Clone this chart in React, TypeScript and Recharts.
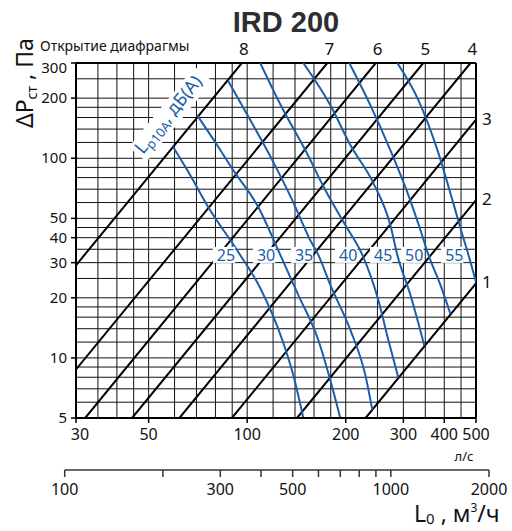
import React from "react";
import {
  LineChart,
  Line,
  XAxis,
  YAxis,
  CartesianGrid,
  ReferenceLine,
} from "recharts";

const FONT = "'Noto Sans', 'DejaVu Sans', sans-serif";
const BLUE = "#1b5ea9";

// grid / tick values (l/s and Pa)
const xGrid = [30, 35, 40, 45, 50, 60, 70, 80, 90, 100, 120, 140, 160, 180, 200, 250, 300, 350, 400, 450, 500];
const xLabels = [30, 50, 100, 200, 300, 400, 500];
const yGrid = [5, 6, 7, 8, 9, 10, 12, 14, 16, 18, 20, 25, 30, 35, 40, 45, 50, 60, 70, 80, 90, 100, 120, 140, 160, 180, 200, 250, 300];
const yLabels = [5, 10, 20, 30, 40, 50, 100, 200, 300];

// second scale, m3/h
const m3Ticks = [100, 200, 300, 400, 500, 600, 700, 800, 900, 1000, 2000];
const m3Labels = [100, 300, 500, 1000, 2000];

// damper opening lines (end points)
const damperNames = ["8", "7", "6", "5", "4", "3", "2", "1"];
const damperQ = [
  [30, 96.3],
  [30, 175.7],
  [32, 247],
  [44.5, 345],
  [62.1, 481],
  [89.8, 500],
  [142, 500],
  [230, 500],
];
const damperP = [
  [29.1, 300],
  [8.75, 300],
  [5, 300],
  [5, 300],
  [5, 300],
  [5, 156],
  [5, 61.7],
  [5, 23.6],
];

// sound level curves Lp10A, dB(A)
const levelNames = ["25", "30", "35", "40", "45", "50", "55"];
const levelQ = [
  [59.4, 65.6, 76.0, 95.2, 109.6, 128, 138.3, 148.4],
  [70.3, 79.8, 90.6, 108.1, 126.2, 143.2, 164.9, 179.4, 192.5],
  [87.5, 102.2, 119.3, 137.3, 155.8, 164.9, 179.4, 206.6, 229.6, 241.1],
  [109.6, 128.9, 150.5, 173.2, 199.4, 224.8, 251.5, 269.9, 289.6],
  [148.4, 179.4, 206.6, 242.9, 273.7, 287.5, 315.1, 347.8],
  [205.1, 237.8, 273.7, 310.7, 338.2, 357.8, 389.3, 417.7],
  [287.5, 333.4, 381.2, 423.6, 454.6, 474.2, 500],
];
const levelP = [
  [114, 87.3, 57, 32.8, 22.4, 12.3, 8.2, 5],
  [164.5, 120.6, 87.3, 57, 32.8, 20.7, 12.3, 7.75, 5],
  [243.5, 155.3, 97.9, 61.7, 38.9, 32.8, 23.2, 13.8, 8.2, 5.5],
  [300, 174.3, 109.9, 69.3, 46.3, 32.8, 19.5, 12.3, 7.95],
  [300, 184.6, 116.4, 75.1, 46.3, 32.8, 20.7, 11.5],
  [300, 184.6, 109.9, 65.4, 43.7, 32.8, 23.2, 16.6],
  [300, 195.6, 109.9, 61.7, 41.3, 32.8, 24],
];
const levelLabelP = 32.8;

const damperRows = damperQ.map((qs, i) => qs.map((q, j) => ({ q, p: damperP[i][j] })));
const levelRows = levelQ.map((qs, i) => qs.map((q, j) => ({ q, p: levelP[i][j] })));
const m3Rows = m3Ticks.map((v) => ({ v }));

function XTick(props: any) {
  const { x, y, payload } = props;
  if (!xLabels.includes(payload.value)) return <g />;
  const dx = payload.value === 30 ? 4 : 0;
  return (
    <g>
      <line x1={x} x2={x} y1={y} y2={y + 5} stroke="#000" strokeWidth={1.5} />
      <text x={x + dx} y={y + 22} textAnchor="middle" fontSize={16} fontFamily={FONT} fill="#111">
        {payload.value}
      </text>
    </g>
  );
}

function YTick(props: any) {
  const { x, y, payload } = props;
  if (!yLabels.includes(payload.value)) return <g />;
  const dy = payload.value === 300 ? 5 : 0;
  return (
    <g>
      <line x1={x - 5} x2={x} y1={y} y2={y} stroke="#000" strokeWidth={1.5} />
      <text x={x - 9} y={y + 5 + dy} textAnchor="end" fontSize={15} fontFamily={FONT} fill="#111">
        {payload.value}
      </text>
    </g>
  );
}

function M3Tick(props: any) {
  const { x, y, payload } = props;
  const show = m3Labels.includes(payload.value);
  return (
    <g>
      <line x1={x} x2={x} y1={y} y2={y + 7} stroke="#333" strokeWidth={1.5} />
      {show && (
        <text x={x} y={y + 25} textAnchor="middle" fontSize={16} fontFamily={FONT} fill="#111">
          {payload.value}
        </text>
      )}
    </g>
  );
}

const damperLabel = (name: string, last: number, atTop: boolean) => (props: any) => {
  const { x, y, index } = props;
  if (index !== last) return <g />;
  return atTop ? (
    <text x={x + 2} y={y - 8} textAnchor="middle" fontSize={17} fontFamily={FONT} fill="#111">
      {name}
    </text>
  ) : (
    <text x={x + 6} y={y + 5} textAnchor="start" fontSize={17} fontFamily={FONT} fill="#111">
      {name}
    </text>
  );
};

const levelLabel = (name: string) => (props: any) => {
  const { x, y, value } = props;
  if (value !== levelLabelP) return <g />;
  const w = name.length * 9.2 + 4;
  return (
    <g>
      <rect x={x - 5 - w} y={y - 8} width={w} height={16} fill="#fff" />
      <text x={x - 5} y={y + 6} textAnchor="end" fontSize={16} fontFamily={FONT} fill={BLUE}>
        {name}
      </text>
    </g>
  );
};

export default function App() {
  return (
    <div style={{ position: "absolute", left: 0, top: 0, width: 512, height: 531, background: "#fff" }}>
      <LineChart width={512} height={531} margin={{ top: 63, right: 36, bottom: 83, left: 0 }}>
        <CartesianGrid stroke="#111" strokeWidth={1} />
        <XAxis
          dataKey="q"
          type="number"
          scale="log"
          domain={[30, 500]}
          ticks={xGrid}
          interval={0}
          allowDataOverflow
          height={30}
          tickSize={0}
          tickMargin={0}
          tickLine={false}
          axisLine={{ stroke: "#000", strokeWidth: 2 }}
          tick={<XTick />}
        />
        <YAxis
          dataKey="p"
          type="number"
          scale="log"
          domain={[5, 300]}
          ticks={yGrid}
          interval={0}
          allowDataOverflow
          width={76}
          tickSize={0}
          tickMargin={0}
          tickLine={false}
          axisLine={{ stroke: "#000", strokeWidth: 2 }}
          tick={<YTick />}
        />
        <ReferenceLine y={300} stroke="#000" strokeWidth={2} ifOverflow="visible" />
        <ReferenceLine x={500} stroke="#000" strokeWidth={2} ifOverflow="visible" />
        {damperRows.map((rows, i) => (
          <Line
            key={"d" + i}
            data={rows}
            dataKey="p"
            type="linear"
            stroke="#000"
            strokeWidth={2}
            dot={false}
            activeDot={false}
            isAnimationActive={false}
            label={damperLabel(damperNames[i], rows.length - 1, damperP[i][1] >= 300)}
          />
        ))}
        {levelRows.map((rows, i) => (
          <Line
            key={"l" + i}
            data={rows}
            dataKey="p"
            type="monotone"
            stroke={BLUE}
            strokeWidth={2}
            dot={false}
            activeDot={false}
            isAnimationActive={false}
            label={levelLabel(levelNames[i])}
          />
        ))}
      </LineChart>

      <div style={{ position: "absolute", left: 0, top: 440 }}>
        <LineChart width={512} height={70} data={m3Rows} margin={{ top: 0, right: 23, bottom: 0, left: 64.7 }}>
          <XAxis
            dataKey="v"
            type="number"
            scale="log"
            domain={[100, 2000]}
            ticks={m3Ticks}
            interval={0}
            allowDataOverflow
            height={40}
            tickSize={0}
            tickMargin={0}
            tickLine={false}
            axisLine={{ stroke: "#333", strokeWidth: 1.5 }}
            tick={<M3Tick />}
          />
          <YAxis hide />
        </LineChart>
      </div>

      <svg
        width={512}
        height={531}
        style={{ position: "absolute", left: 0, top: 0, pointerEvents: "none" }}
      >
        <text x={286} y={32} textAnchor="middle" fontSize={29} fontWeight="bold" fontFamily="'Liberation Sans', Arial, sans-serif" fill="#2b2f33">
          IRD 200
        </text>
        <text x={40} y={51} fontSize={14} fontFamily={FONT} fill="#111">
          Открытие диафрагмы
        </text>
        <text transform="translate(33,128) rotate(-90)" fontSize={23} fontFamily={FONT} fill="#111">
          ΔP
          <tspan fontSize={14} dy={4}>ст</tspan>
          <tspan dy={-4}> , Па</tspan>
        </text>
        <g transform="translate(143,155) rotate(-50.7)">
          <rect x={-3} y={-16} width={104} height={23} fill="#fff" />
          <text x={0} y={0} fontSize={18} fontFamily={FONT} fill={BLUE}>
            L
            <tspan fontSize={13} dy={4}>p10A</tspan>
            <tspan dy={-4}>, дБ(A)</tspan>
          </text>
        </g>
        <text x={464} y={461} textAnchor="middle" fontSize={13} fontFamily={FONT} fill="#111">
          л/с
        </text>
        <text x={414} y={522} fontSize={23} fontFamily={FONT} fill="#111">
          L
          <tspan fontSize={15} dy={2}>0</tspan>
          <tspan dy={-2}> , м</tspan>
          <tspan fontSize={12} dy={-10}>3</tspan>
          <tspan dy={10}>/ч</tspan>
        </text>
      </svg>
    </div>
  );
}
